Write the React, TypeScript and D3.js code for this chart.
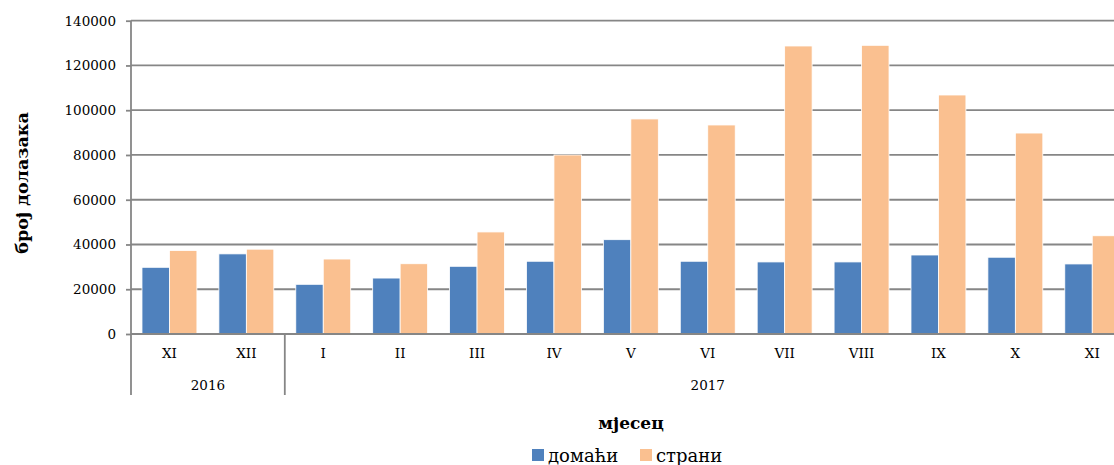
import React, { useEffect, useRef } from "react";
import * as d3 from "d3";

// months shown on the axis, and which year each belongs to
const months = ["XI", "XII", "I", "II", "III", "IV", "V", "VI", "VII", "VIII", "IX", "X", "XI"];
const years = ["2016", "2016", "2017", "2017", "2017", "2017", "2017", "2017", "2017", "2017", "2017", "2017", "2017"];

// arrivals
const domaci = [29800, 35800, 22200, 25000, 30250, 32500, 42150, 32500, 32200, 32200, 35300, 34300, 31300];
const strani = [37300, 37900, 33500, 31400, 45600, 80000, 96100, 93400, 128700, 129000, 106800, 89800, 43900];

const seriesNames = ["домаћи", "страни"];
const seriesColors = ["#4f81bd", "#fac090"];
const yTicks = [0, 20000, 40000, 60000, 80000, 100000, 120000, 140000];

const FONT = "'DejaVu Serif', 'Liberation Serif', serif";

export default function App() {
  const ref = useRef<SVGSVGElement>(null);

  useEffect(() => {
    const width = 1114, height = 465;
    const left = 131, top = 20.7, bottom = 334;
    const step = 76.9;

    const svg = d3.select(ref.current);
    svg.selectAll("*").remove();
    svg.attr("width", width).attr("height", height);

    const idx = months.map((_, i) => i);
    const x0 = d3.scaleBand<number>().domain(idx).range([left, left + step * months.length]);
    const x1 = d3.scaleBand<number>().domain([0, 1]).range([0, x0.bandwidth()]).paddingOuter(0.4).paddingInner(0);
    const y = d3.scaleLinear().domain([0, 140000]).range([bottom, top]);

    const gridColor = "#868686";

    // gridlines
    svg.append("g")
      .selectAll("line")
      .data(yTicks.slice(1))
      .enter().append("line")
      .attr("x1", left).attr("x2", width)
      .attr("y1", d => y(d)).attr("y2", d => y(d))
      .attr("stroke", gridColor).attr("stroke-width", 1.8);

    // bars
    const series = [domaci, strani];
    series.forEach((vals, s) => {
      svg.append("g")
        .selectAll("rect")
        .data(vals)
        .enter().append("rect")
        .attr("x", (d, i) => (x0(i) as number) + (x1(s) as number))
        .attr("width", x1.bandwidth())
        .attr("y", d => y(d))
        .attr("height", d => y(0) - y(d))
        .attr("fill", seriesColors[s])
        .attr("stroke", "#ffffff")
        .attr("stroke-width", 0.8);
    });

    // y axis
    const yAxis = d3.axisLeft(y).tickValues(yTicks).tickSize(5).tickPadding(10).tickFormat(d3.format("d"));
    const ya = svg.append("g").attr("transform", "translate(" + left + ",0)").call(yAxis);
    ya.select(".domain").remove();
    ya.selectAll("line").attr("stroke", gridColor).attr("stroke-width", 1.8);
    ya.selectAll("text").attr("font-family", FONT).attr("font-size", 13.5).attr("fill", "#000");

    // vertical axis line down to the year row
    svg.append("line")
      .attr("x1", left).attr("x2", left)
      .attr("y1", top).attr("y2", 395)
      .attr("stroke", gridColor).attr("stroke-width", 1.8);

    // x baseline
    svg.append("line")
      .attr("x1", left).attr("x2", width)
      .attr("y1", bottom).attr("y2", bottom)
      .attr("stroke", gridColor).attr("stroke-width", 2);

    // month labels
    svg.append("g")
      .selectAll("text")
      .data(months)
      .enter().append("text")
      .attr("x", (d, i) => (x0(i) as number) + x0.bandwidth() / 2)
      .attr("y", 358)
      .attr("text-anchor", "middle")
      .attr("font-family", FONT).attr("font-size", 13.5)
      .text(d => d);

    // year groups
    const groups = d3.groups(idx, i => years[i]);
    groups.forEach(([yr, items]) => {
      const a = x0(items[0]) as number;
      const b = (x0(items[items.length - 1]) as number) + x0.bandwidth();
      svg.append("line")
        .attr("x1", b).attr("x2", b).attr("y1", bottom).attr("y2", 395)
        .attr("stroke", gridColor).attr("stroke-width", 1.8);
      svg.append("text")
        .attr("x", (a + b) / 2)
        .attr("y", 390)
        .attr("text-anchor", "middle")
        .attr("font-family", FONT).attr("font-size", 13.5)
        .text(yr);
    });

    // axis titles
    svg.append("text")
      .attr("x", 631).attr("y", 429)
      .attr("text-anchor", "middle")
      .attr("font-family", FONT).attr("font-size", 17).attr("font-weight", "bold")
      .text("мјесец");

    svg.append("text")
      .attr("transform", "translate(28,183) rotate(-90)")
      .attr("text-anchor", "middle")
      .attr("font-family", FONT).attr("font-size", 17.5).attr("font-weight", "bold")
      .text("број долазака");

    // legend
    const legendX = [532, 640];
    seriesNames.forEach((name, s) => {
      svg.append("rect")
        .attr("x", legendX[s]).attr("y", 449)
        .attr("width", 12).attr("height", 12)
        .attr("fill", seriesColors[s]);
      svg.append("text")
        .attr("x", legendX[s] + 16).attr("y", 462)
        .attr("font-family", FONT).attr("font-size", 18)
        .text(name);
    });
  }, []);

  return <svg ref={ref} style={{ position: "absolute", left: 0, top: 0, display: "block" }}></svg>;
}
